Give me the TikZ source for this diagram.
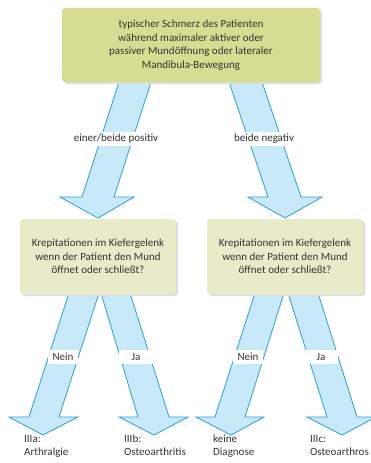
\documentclass[tikz,border=0pt]{standalone}
\usepackage{fontspec}
\setmainfont{Carlito}
\definecolor{arrfill}{HTML}{C8E9F8}
\definecolor{arrline}{HTML}{2A9FD8}
\definecolor{topbox}{HTML}{D6DD92}
\definecolor{midbox}{HTML}{E7EBC8}
\definecolor{shade}{HTML}{DDDDDD}
\definecolor{txt}{HTML}{333333}
\begin{document}
\begin{tikzpicture}[x=1pt,y=-1pt,
  bigarrow/.style={fill=arrfill,draw=arrline,line width=0.8pt,line join=miter},
  boxbase/.style={rounded corners=3pt,inner sep=0pt,text=txt,align=center,font=\fontsize{11}{13.5}\selectfont},
  topstyle/.style={boxbase,fill=topbox,minimum width=258pt,minimum height=74pt},
  midstyle/.style={boxbase,fill=midbox,minimum width=156pt,minimum height=75pt},
  shadowbox/.style={fill=shade,rounded corners=3pt},
  lbl/.style={fill=white,text=txt,inner xsep=5pt,inner ysep=0pt,minimum height=14pt,font=\fontsize{11}{12}\selectfont},
  endlbl/.style={anchor=north west,inner sep=0pt,text=txt,align=left,font=\fontsize{11}{13}\selectfont}]
\useasboundingbox (0,0) rectangle (370,463);
% arrows
\draw[bigarrow] (119,82) -- (151,82) -- (114,197) -- (134,197) -- (98,218) -- (60,197) -- (82,197) -- cycle;
\draw[bigarrow] (229,82) -- (262,82) -- (301,197) -- (322,197) -- (285,218) -- (248,197) -- (268,197) -- cycle;
\draw[bigarrow] (69,293) -- (99,293) -- (59,417) -- (78,417) -- (43,435) -- (9,417) -- (29,417) -- cycle;
\draw[bigarrow] (101,293) -- (130,293) -- (169,417) -- (188,417) -- (154,435) -- (119,417) -- (138,417) -- cycle;
\draw[bigarrow] (255,293) -- (284,293) -- (245,417) -- (264,417) -- (231,435) -- (196,417) -- (215,417) -- cycle;
\draw[bigarrow] (288,293) -- (318,293) -- (357,417) -- (376,417) -- (342,435) -- (307,417) -- (327,417) -- cycle;
% boxes with shadows
\fill[shadowbox] (64,10) rectangle (322,84);
\node[topstyle] (top) at (191,45) {typischer Schmerz des Patienten\\während maximaler aktiver oder\\passiver Mundöffnung oder lateraler\\Mandibula-Bewegung};
\fill[shadowbox] (22,221) rectangle (178,296);
\node[midstyle] (midL) at (98,256.5) {Krepitationen im Kiefergelenk\\wenn der Patient den Mund\\öffnet oder schließt?};
\fill[shadowbox] (209,221) rectangle (365,296);
\node[midstyle] (midR) at (285,256.5) {Krepitationen im Kiefergelenk\\wenn der Patient den Mund\\öffnet oder schließt?};
% labels
\node[lbl] (pos) at (116,139) {einer/beide positiv};
\node[lbl] (neg) at (264,139) {beide negativ};
\node[lbl] (neinL) at (63,357) {Nein};
\node[lbl,minimum width=34pt] (jaL) at (136,357) {Ja};
\node[lbl] (neinR) at (248,357) {Nein};
\node[lbl,minimum width=34pt] (jaR) at (321,357) {Ja};
% end labels
\node[endlbl] (a) at (24,435) {IIIa:\\Arthralgie};
\node[endlbl] (b) at (124,435) {IIIb:\\Osteoarthritis};
\node[endlbl] (c) at (213,435) {keine\\Diagnose};
\node[endlbl] (d) at (310,435) {IIIc:\\Osteoarthros};
\end{tikzpicture}
\end{document}
